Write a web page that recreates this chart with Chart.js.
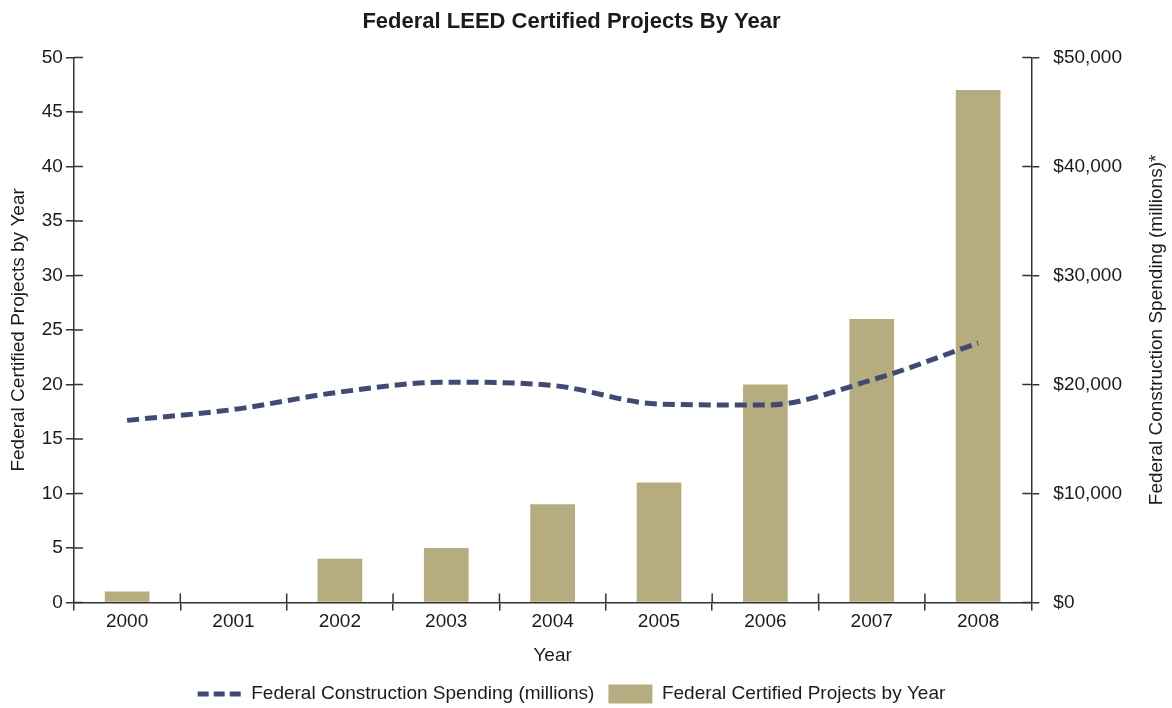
<!DOCTYPE html>
<html>
<head>
<meta charset="utf-8">
<script src="https://cdn.jsdelivr.net/npm/chart.js@4.4.1/dist/chart.umd.min.js"></script>
<style>
  html, body { margin: 0; padding: 0; background: #fff; }
  #wrap { width: 1172px; height: 708px; }
</style>
</head>
<body>
<div id="wrap"><canvas id="chart"></canvas></div>
<script>
// values
const years = ['2000', '2001', '2002', '2003', '2004', '2005', '2006', '2007', '2008'];
const certifiedProjects = [1, 0, 4, 5, 9, 11, 20, 26, 47];
const constructionSpending = [16700, 17700, 19300, 20200, 19900, 18200, 18100, 20400, 23800];

const AXIS = '#333333';
const TEXT = '#1b1b1b';
const FONT = "'Liberation Sans', Arial, sans-serif";
const FS = 19;

// draws the inner half of each tick so ticks cross the axis lines,
// plus the right-hand axis title reading bottom to top
const crossTicks = {
  id: 'crossTicks',
  afterDraw(chart) {
    const ctx = chart.ctx;
    const { x, y, y2 } = chart.scales;
    ctx.save();
    ctx.strokeStyle = AXIS;
    ctx.lineWidth = 1.5;
    ctx.beginPath();
    y.ticks.forEach((t, i) => {
      const py = y.getPixelForTick(i);
      ctx.moveTo(y.right, py);
      ctx.lineTo(y.right + 9, py);
    });
    y2.ticks.forEach((t, i) => {
      const py = y2.getPixelForTick(i);
      ctx.moveTo(y2.left, py);
      ctx.lineTo(y2.left - 9, py);
    });
    for (let i = 1; i < x.ticks.length; i++) {
      const px = (x.getPixelForTick(i - 1) + x.getPixelForTick(i)) / 2;
      ctx.moveTo(px, x.top);
      ctx.lineTo(px, x.top - 9);
    }
    ctx.stroke();

    ctx.fillStyle = TEXT;
    ctx.font = FS + 'px ' + FONT;
    ctx.textAlign = 'center';
    ctx.textBaseline = 'middle';
    ctx.translate(1157, (chart.chartArea.top + chart.chartArea.bottom) / 2);
    ctx.rotate(-Math.PI / 2);
    ctx.fillText('Federal Construction Spending (millions)*', 0, 0);
    ctx.restore();
  }
};

Chart.defaults.font.family = FONT;
Chart.defaults.color = TEXT;

new Chart(document.getElementById('chart'), {
  type: 'bar',
  data: {
    labels: years,
    datasets: [
      {
        type: 'line',
        label: 'Federal Construction Spending (millions)',
        data: constructionSpending,
        yAxisID: 'y2',
        borderColor: '#414a72',
        backgroundColor: '#414a72',
        borderWidth: 5,
        borderDash: [12, 6],
        pointRadius: 0,
        cubicInterpolationMode: 'monotone',
        fill: false,
        order: 1,
        pointStyle: 'line'
      },
      {
        label: 'Federal Certified Projects by Year',
        data: certifiedProjects,
        yAxisID: 'y',
        backgroundColor: '#b5ac80',
        categoryPercentage: 1,
        barPercentage: 0.42,
        order: 2,
        pointStyle: 'rect'
      }
    ]
  },
  options: {
    responsive: true,
    maintainAspectRatio: false,
    animation: false,
    layout: { padding: { left: 7, right: 36, top: 0, bottom: -5.5 } },
    plugins: {
      title: {
        display: true,
        text: 'Federal LEED Certified Projects By Year',
        font: { size: 22, weight: 'bold' },
        color: TEXT,
        padding: { top: 9, bottom: 22 }
      },
      legend: {
        position: 'bottom',
        labels: {
          usePointStyle: true,
          pointStyleWidth: 44,
          boxHeight: 21,
          padding: 14,
          font: { size: FS },
          color: TEXT,
          generateLabels(chart) {
            const items = Chart.defaults.plugins.legend.labels.generateLabels(chart);
            items.forEach(it => {
              if (it.datasetIndex === 0) {
                it.lineDash = [11, 5];
                it.lineWidth = 5;
              } else {
                it.lineWidth = 0;
                it.strokeStyle = 'rgba(0,0,0,0)';
              }
            });
            return items;
          }
        }
      },
      tooltip: { enabled: false }
    },
    scales: {
      x: {
        grid: { display: true, drawOnChartArea: false, tickLength: 8, color: AXIS, lineWidth: 1.5 },
        border: { color: AXIS, width: 1.5 },
        ticks: { font: { size: FS }, color: TEXT, padding: 0 },
        title: { display: true, text: 'Year', font: { size: FS }, color: TEXT, padding: { top: 11, bottom: 3.5 } }
      },
      y: {
        position: 'left',
        min: 0,
        max: 50,
        ticks: { stepSize: 5, font: { size: FS }, color: TEXT, padding: 3 },
        grid: { drawOnChartArea: false, tickLength: 8, color: AXIS, lineWidth: 1.5 },
        border: { color: AXIS, width: 1.5 },
        title: { display: true, text: 'Federal Certified Projects by Year', font: { size: FS }, color: TEXT, padding: { top: 0, bottom: 9 } }
      },
      y2: {
        position: 'right',
        min: 0,
        max: 50000,
        ticks: {
          stepSize: 10000,
          font: { size: FS },
          color: TEXT,
          padding: 14,
          callback: v => '$' + v.toLocaleString('en-US')
        },
        grid: { drawOnChartArea: false, tickLength: 8, color: AXIS, lineWidth: 1.5 },
        border: { color: AXIS, width: 1.5 }
      }
    }
  },
  plugins: [crossTicks]
});
</script>
</body>
</html>
